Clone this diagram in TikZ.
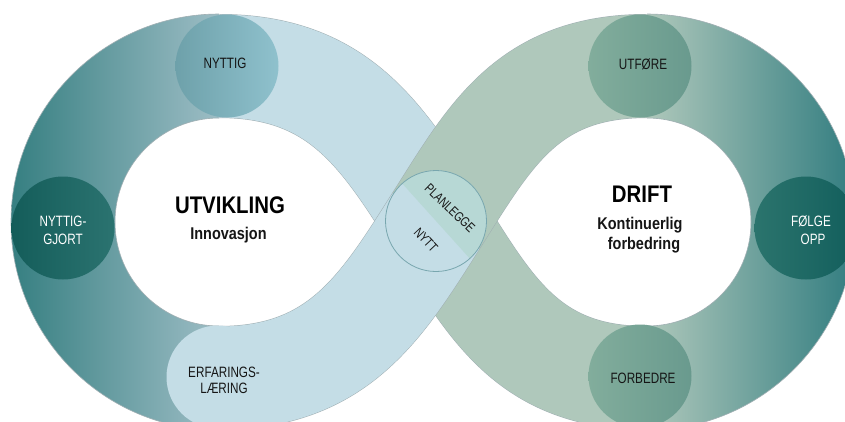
\documentclass[tikz,border=0pt]{standalone}
\usepackage{fontspec}
\setmainfont{Liberation Sans}
\newfontfamily\narrowfont[FakeStretch=0.78]{Liberation Sans}
\newfontfamily\headfont[FakeStretch=0.85]{Liberation Sans}

\definecolor{bandblue}{HTML}{C4DDE6}
\definecolor{bandgreen}{HTML}{AFC8BB}
\definecolor{ringdarkL}{HTML}{367F81}
\definecolor{ringlightL}{HTML}{9DBDC5}
\definecolor{ringdarkR}{HTML}{327D80}
\definecolor{edgegray}{HTML}{A0AFB3}
\definecolor{nytL}{HTML}{6EA1AA}
\definecolor{nytR}{HTML}{8FC1CD}
\definecolor{gjL}{HTML}{145D5A}
\definecolor{gjR}{HTML}{2B7370}
\definecolor{utL}{HTML}{82AD9C}
\definecolor{utR}{HTML}{699A8E}
\definecolor{foL}{HTML}{2B746D}
\definecolor{foR}{HTML}{125E5C}
\definecolor{planG}{HTML}{B7D8D5}
\definecolor{planEdge}{HTML}{78A6AE}
\definecolor{ink}{HTML}{151515}

\begin{document}
\begin{tikzpicture}[x=1pt,y=-1pt,
  ringedge/.style={draw=edgegray, line width=0.6pt},
  bandline/.style={draw=edgegray, line width=104pt},
  bluestroke/.style={draw=bandblue, line width=103pt},
  greenstroke/.style={draw=bandgreen, line width=103pt},
  disc/.style={circle, minimum size=103pt, inner sep=0pt},
  lbl/.style={font=\narrowfont\fontsize{15}{17}\selectfont, inner sep=0pt, anchor=base, text=ink},
  head/.style={font=\headfont\bfseries\fontsize{24}{26}\selectfont, inner sep=0pt, anchor=base, text=black},
  sub/.style={font=\headfont\bfseries\fontsize{17}{19}\selectfont, inner sep=0pt, anchor=base, text=ink},
  tiny/.style={font=\narrowfont\fontsize{13.5}{15}\selectfont, inner sep=0pt, text=ink}
]
\useasboundingbox (0,0) rectangle (845,421);
\clip (0,0) rectangle (845,421);
\fill[white] (0,0) rectangle (845,421);

% key points of the figure-eight
\coordinate (X)  at (436,221);
\coordinate (LT) at (219,66);
\coordinate (LB) at (219,378);
\coordinate (RT) at (647,66);
\coordinate (RB) at (647,378);

% outer halves of the two loops, shaded
\shade[left color=ringdarkL, right color=ringlightL]
  (219,14) arc[start angle=-90, end angle=-270, radius=208]
  -- (219,326) arc[start angle=90, end angle=270, radius=104] -- cycle;
\draw[ringedge] (219,14) arc[start angle=-90, end angle=-270, radius=208];
\draw[ringedge] (219,118) arc[start angle=-90, end angle=-270, radius=104];

\shade[left color=bandgreen, right color=ringdarkR]
  (647,14) arc[start angle=-90, end angle=90, radius=208]
  -- (647,326) arc[start angle=90, end angle=-90, radius=104] -- cycle;
\draw[ringedge] (647,14) arc[start angle=-90, end angle=90, radius=208];
\draw[ringedge] (647,118) arc[start angle=-90, end angle=90, radius=104];

% lower strand of the crossing: top-left to bottom-right
\draw[bandline] (LT) .. controls (339,66) and (382,136) .. (X);
\draw[bluestroke] (LT) .. controls (339,66) and (382,136) .. (X);
\draw[bandline] (X) .. controls (490,306) and (527,378) .. (RB);
\draw[greenstroke] (X) .. controls (490,306) and (527,378) .. (RB);

% upper strand of the crossing: top-right to bottom-left
\draw[bandline] (RT) .. controls (527,66) and (490,136) .. (X);
\draw[greenstroke] (RT) .. controls (527,66) and (490,136) .. (X);
\draw[bandline] (X) .. controls (382,306) and (339,378) .. (LB);
\draw[bluestroke] (X) .. controls (382,306) and (339,378) .. (LB);

% stage circles
\node[disc, left color=nytL, right color=nytR] (nyttig) at (227,66) {};
\node[disc, left color=gjL, right color=gjR] (gjort) at (63,228) {};
\node[disc, fill=bandblue] (erfaring) at (218,377) {};
\node[disc, left color=utL, right color=utR] (utfore) at (640,66) {};
\node[disc, left color=utL, right color=utR] (forbedre) at (640,376) {};
\node[disc, left color=foL, right color=foR] (folge) at (806,228) {};

% central circle, split in two tints
\node[circle, minimum size=101pt, inner sep=0pt, fill=bandblue] (plan) at (X) {};
\fill[planG] (plan.center) ++(-132:50.5) arc[start angle=-132, end angle=48, radius=50.5] -- cycle;
\draw[planEdge, line width=0.8pt] (plan.center) circle[radius=50.5];

% labels
\node[lbl] (tnyttig) at (225,68.5) {NYTTIG};
\node[lbl, text=white] (tgj1) at (63,226) {NYTTIG-};
\node[lbl, text=white] (tgj2) at (63,244) {GJORT};
\node[lbl] (ter1) at (224,377) {ERFARINGS-};
\node[lbl] (ter2) at (224,393) {LÆRING};
\node[lbl] (tut) at (643,69) {UTFØRE};
\node[lbl] (tfo) at (643,383) {FORBEDRE};
\node[lbl, text=white] (tf1) at (811,226) {FØLGE};
\node[lbl, text=white] (tf2) at (813,244) {OPP};

\node[head] (tutv) at (230,213) {UTVIKLING};
\node[sub] (tinn) at (228.5,239) {Innovasjon};
\node[head] (tdrift) at (642,202) {DRIFT};
\node[sub] (tkont) at (640,229) {Kontinuerlig};
\node[sub] (tforb) at (644,249) {forbedring};

\node[tiny, rotate=-44] (tplan) at (450,208) {PLANLEGGE};
\node[tiny, rotate=-47] (tnytt) at (426,240) {NYTT};
\end{tikzpicture}
\end{document}
